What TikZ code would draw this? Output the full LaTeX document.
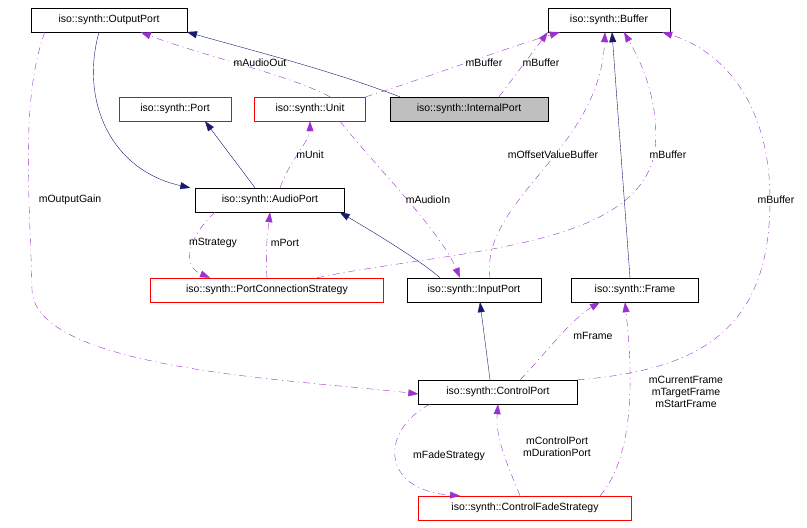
\documentclass[tikz,border=0pt]{standalone}
\usepackage{fontspec}
\setmainfont{Liberation Sans}
\usetikzlibrary{arrows.meta}
\definecolor{inh}{HTML}{191970}
\definecolor{col}{HTML}{9A32CD}
\begin{document}
\begin{tikzpicture}[x=1pt,y=-1pt,
  box/.style={draw,rectangle,minimum height=24pt,inner sep=0pt,font=\fontsize{10.5}{12}\selectfont},
  red/.style={draw=red},
  inhe/.style={draw=inh,-{Triangle[length=10pt,width=7pt,fill=inh]}},
  coll/.style={draw=col,dash pattern=on 7pt off 4pt on 1pt off 4pt,-{Triangle[length=10pt,width=7pt,fill=col]}},
  lab/.style={font=\fontsize{10.5}{12}\selectfont,align=center,inner sep=1pt}]
\useasboundingbox (0,0) rectangle (807,528);
\node[box,minimum width=156pt] (op) at (109,20) {iso::synth::OutputPort};
\node[box,minimum width=122pt] (buf) at (609,20) {iso::synth::Buffer};
\node[box,red,minimum width=112pt] (port) at (175,109) {iso::synth::Port};
\node[box,red,minimum width=111pt] (unit) at (310,109) {iso::synth::Unit};
\node[box,fill=black!25,minimum width=158pt] (ip) at (469,109) {iso::synth::InternalPort};
\node[box,minimum width=149pt] (ap) at (270,200) {iso::synth::AudioPort};
\node[box,red,minimum width=233pt] (pcs) at (267,290) {iso::synth::PortConnectionStrategy};
\node[box,minimum width=134pt] (inp) at (474,290) {iso::synth::InputPort};
\node[box,minimum width=127pt] (fr) at (635,290) {iso::synth::Frame};
\node[box,minimum width=159pt] (cp) at (498,392) {iso::synth::ControlPort};
\node[box,red,minimum width=213pt] (cfs) at (525,508) {iso::synth::ControlFadeStrategy};

\draw[inhe] (ip.north west) ++(10,0) .. controls (330,70) and (250,50) .. (187,32);
\draw[coll] (ip.north) ++(30,0) -- (buf.south west);
\node[lab] at (541,63) {mBuffer};
\draw[coll] (unit.north east) .. controls (420,80) and (500,50) .. ([xshift=12pt]buf.south west);
\node[lab] at (484,63) {mBuffer};
\draw[coll] ([xshift=20pt]unit.north) .. controls (290,75) and (200,55) .. ([xshift=110pt]op.south west);
\node[lab] at (260,63) {mAudioOut};
\draw[inhe] ([xshift=-10pt]op.south) .. controls (80,100) and (110,170) .. ([xshift=-5pt]ap.north west);
\draw[inhe] ([xshift=-15pt]ap.north) -- ([xshift=30pt]port.south);
\draw[coll] ([xshift=10pt]ap.north) .. controls (290,160) and (310,140) .. (unit.south);
\node[lab] at (310,155) {mUnit};
\draw[coll] ([xshift=30pt]unit.south) .. controls (370,160) and (440,230) .. ([xshift=-14pt]inp.north);
\node[lab] at (428,200) {mAudioIn};
\draw[inhe] ([xshift=-34pt]inp.north) .. controls (420,260) and (370,230) .. ([xshift=-5pt]ap.south east);
\draw[coll] ([xshift=-55pt]ap.south) .. controls (190,235) and (180,265) .. ([xshift=-57pt]pcs.north);
\node[lab] at (213,243) {mStrategy};
\draw[coll] (pcs.north) .. controls (265,250) and (268,230) .. (ap.south);
\node[lab] at (285,243) {mPort};
\draw[coll] ([xshift=50pt]pcs.north) .. controls (450,250) and (640,250) .. (655,150) .. controls (660,100) and (640,60) .. ([xshift=15pt]buf.south);
\node[lab,fill=white] at (668,155) {mBuffer};
\draw[coll] ([xshift=16pt]inp.north) .. controls (480,200) and (600,150) .. ([xshift=-4pt]buf.south);
\node[lab,fill=white] at (553,155) {mOffsetValueBuffer};
\draw[inhe] ([xshift=-5pt]fr.north) -- ([xshift=3pt]buf.south);
\draw[coll] (cp.north east) .. controls (700,370) and (770,330) .. (770,200) .. controls (770,100) and (720,50) .. ([xshift=-8pt]buf.south east);
\node[lab,fill=white] at (776,200) {mBuffer};
\draw[coll] ([xshift=14pt]op.south west) .. controls (20,100) and (30,200) .. (32,290) .. controls (35,370) and (300,380) .. ([yshift=-2pt]cp.west);
\node[lab,fill=white] at (70,200) {mOutputGain};
\draw[inhe] ([xshift=-8pt]cp.north) -- ([xshift=6pt]inp.south);
\draw[coll] ([xshift=22pt]cp.north) .. controls (540,360) and (570,320) .. ([xshift=-35pt]fr.south);
\node[lab] at (593,336) {mFrame};
\draw[coll] ([xshift=75pt]cfs.north) .. controls (640,450) and (630,350) .. ([xshift=-10pt]fr.south);
\node[lab] at (686,392) {mCurrentFrame\\mTargetFrame\\mStartFrame};
\draw[coll] ([xshift=-68pt]cp.south) .. controls (380,430) and (380,490) .. ([xshift=-65pt]cfs.north);
\node[lab] at (449,456) {mFadeStrategy};
\draw[coll] ([xshift=-5pt]cfs.north) .. controls (510,470) and (495,440) .. (cp.south);
\node[lab] at (557,447) {mControlPort\\mDurationPort};
\end{tikzpicture}
\end{document}
